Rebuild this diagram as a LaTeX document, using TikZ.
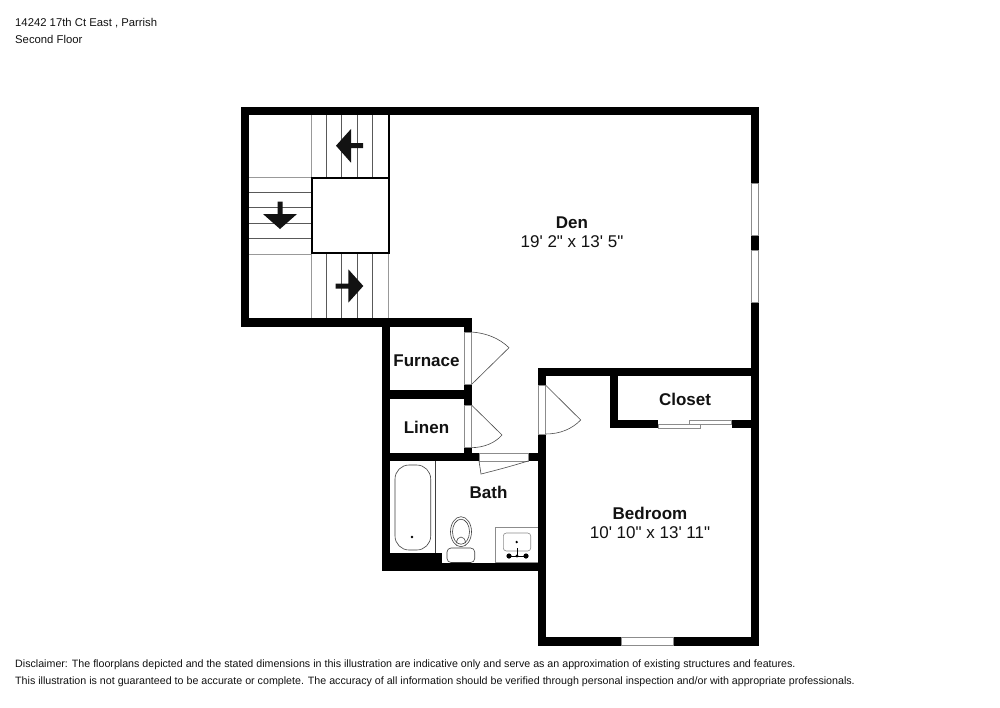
\documentclass[tikz,border=0pt]{standalone}
\usepackage{fontspec}
\newfontfamily\planfont{Liberation Sans}
\usetikzlibrary{positioning}

\newcommand{\wallbox}[4]{\fill[wall] (#1,#2) rectangle (#3,#4);}
\newcommand{\openbox}[4]{\filldraw[opening] (#1,#2) rectangle (#3,#4);}

\begin{document}
\begin{tikzpicture}
[x=1pt,y=-1pt,%
  every node/.style={inner sep=0pt,font=\planfont,text=black!93},%
  wall/.style={fill=black},%
  opening/.style={fill=white,draw=black!45,line width=0.8pt},%
  tread/.style={draw=black!65,line width=0.7pt},%
  treadedge/.style={draw=black!40,line width=0.8pt},%
  fixture/.style={draw=black!75,line width=0.6pt},%
  leaf/.style={draw=black!70,line width=0.6pt},%
  arrowmark/.style={fill=black!93},%
  roomname/.style={anchor=base,font=\planfont\fontsize{17}{20}\selectfont\bfseries},%
  roomsize/.style={anchor=base,font=\planfont\fontsize{17}{20}\selectfont},%
  headprint/.style={anchor=base west,font=\planfont\fontsize{11.3}{13}\selectfont},%
  smallprint/.style={anchor=base west,font=\planfont\fontsize{10.67}{13}\selectfont}]
\useasboundingbox[fill=white] (0,0) rectangle (1000,707);

% stairs
\foreach \x in {326.3,341.7,357.3,372.7} {
  \draw[tread] (\x,115) -- (\x,177);
  \draw[tread] (\x,254) -- (\x,318);
}
\foreach \y in {192.3,207.3,223,238.3}
  \draw[tread] (249,\y) -- (311,\y);
\draw[treadedge] (311,115) -- (311,177) (249,177) -- (311,177);
\draw[treadedge] (311,254) -- (311,318) (249,254) -- (311,254) (388.5,254) -- (388.5,318);
\draw[line width=1.8pt] (389,115) -- (389,177);
\draw[line width=1.8pt] (312,178) rectangle (389,253);
\fill[arrowmark] (336,145.7) -- (351,129) -- (351,143.2) -- (363,143.2) -- (363,148.2) -- (351,148.2) -- (351,162.7) -- cycle;
\fill[arrowmark] (280,229) -- (263,214) -- (277.5,214) -- (277.5,201.7) -- (282.5,201.7) -- (282.5,214) -- (297,214) -- cycle;
\fill[arrowmark] (363.3,286) -- (348.3,269.3) -- (348.3,283.5) -- (335.7,283.5) -- (335.7,288.5) -- (348.3,288.5) -- (348.3,302.7) -- cycle;

% outer walls
\wallbox{241}{107}{759}{115}
\wallbox{241}{107}{249}{327}
\wallbox{241}{318}{472}{327}
\wallbox{751}{107}{759}{646}
\wallbox{538}{368}{759}{376}
\wallbox{538}{368}{546}{646}
\wallbox{538}{637}{759}{646}
% inner walls
\wallbox{382}{318}{390}{571}
\wallbox{464}{318}{472}{461}
\wallbox{382}{390}{472}{399}
\wallbox{382}{453}{479}{461}
\wallbox{528}{453}{546}{461}
\wallbox{382}{563}{546}{571}
\wallbox{382}{553}{442}{571}
\wallbox{610}{368}{618.3}{428.3}
\wallbox{610}{420}{658}{428.3}
\wallbox{732}{420}{759}{428.3}

% windows and door openings
\openbox{751.5}{183}{758.5}{235}
\openbox{751.5}{250.5}{758.5}{302}
\openbox{621}{637.5}{673}{645.5}
\openbox{464.5}{332}{471.5}{384.5}
\openbox{464.5}{405}{471.5}{447.7}
\openbox{538.5}{385}{545.5}{434}
\openbox{479}{453.5}{528}{461}
\openbox{658}{424.3}{700}{428.3}
\openbox{689}{420.7}{731.5}{424.3}

% door leaves
\draw[leaf] (471.5,384.5) -- (509,347.7) .. controls (499,338) and (486,333) .. (471.5,332);
\draw[leaf] (471.5,405) -- (502,435) .. controls (495,443) and (484,447.5) .. (471.5,447.7);
\draw[leaf] (545.5,385) -- (580.7,420) .. controls (572,429) and (560,434) .. (545.5,434);
\draw[leaf] (479,461) -- (481,474) .. controls (497,470) and (512,466) .. (528,461);

% tub
\draw[fixture] (435.7,461) -- (435.7,553);
\draw[fixture,rounded corners=14pt] (395,465) rectangle (430.7,550);
\fill (412,537) circle (1.3pt);
% toilet
\filldraw[fixture,fill=white] (461,531.7) ellipse (10.5pt and 15pt);
\draw[fixture] (461,531.7) ellipse (8.5pt and 12.5pt);
\draw[fixture] (456.5,543) .. controls (457,535) and (465,535) .. (465.5,543);
\filldraw[fixture,fill=white,rounded corners=4pt] (447,548) rectangle (474.7,562.5);
% vanity
\draw[draw=black!45,line width=0.8pt] (495,562.5) -- (495,527) -- (538,527);
\draw[draw=black!45,line width=0.8pt] (495,562.5) -- (538,562.5);
\draw[draw=black!45,line width=0.6pt,rounded corners=3pt] (503.3,533) rectangle (530.7,551);
\fill (516.7,542) circle (1.3pt);
\draw[line width=0.8pt] (517,548) -- (517,556) (509,556) -- (526,556);
\foreach \x/\r in {509/2.6,517/1.6,526/2.6}
  \fill (\x,556) circle (\r pt);

% labels
\node[roomname] (den) at (572,228) {Den};
\node[roomsize] (densize) at (572,247) {19' 2" x 13' 5"};
\node[roomname] (furnace) at (426.5,366) {Furnace};
\node[roomname] (linen) at (426.5,433) {Linen};
\node[roomname] (bath) at (488.5,498) {Bath};
\node[roomname] (closet) at (685,405) {Closet};
\node[roomname] (bedroom) at (650,519) {Bedroom};
\node[roomsize] (bedroomsize) at (650,538) {10' 10" x 13' 11"};

\node[headprint] (address) at (15,26) {14242 17th Ct East , Parrish};
\node[headprint] (floor) at (15,43) {Second Floor};
\node[smallprint] (disclaimer) at (15,667) {Disclaimer: The floorplans depicted and the stated dimensions in this illustration are indicative only and serve as an approximation of existing structures and features.};
\node[smallprint] (notice) at (15,684) {This illustration is not guaranteed to be accurate or complete. The accuracy of all information should be verified through personal inspection and/or with appropriate professionals.};
\end{tikzpicture}
\end{document}
